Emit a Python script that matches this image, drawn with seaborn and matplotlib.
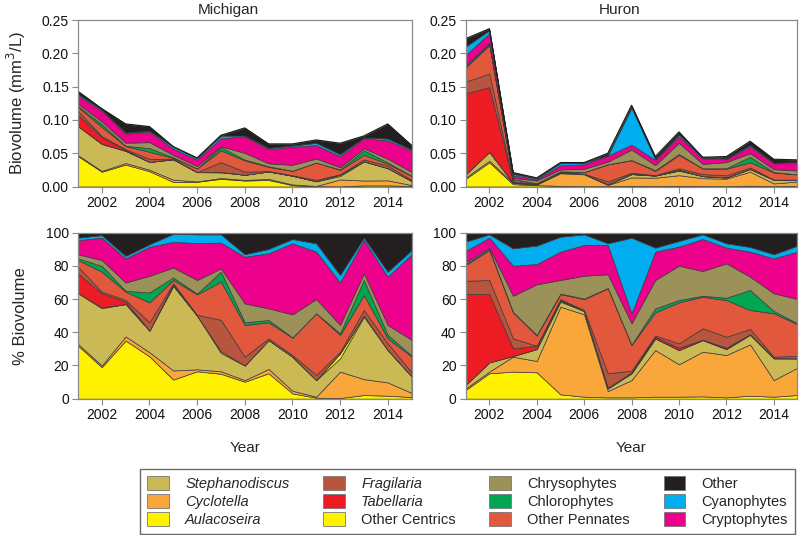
import matplotlib
matplotlib.use("Agg")
import matplotlib.pyplot as plt
import seaborn as sns
import numpy as np
from matplotlib.patches import Patch

# ---------------- data ----------------
years = list(range(2001, 2016))
xticks = [2002, 2004, 2006, 2008, 2010, 2012, 2014]
lakes = ["Michigan", "Huron"]

series_names = ["Aulacoseira", "Cyclotella", "Stephanodiscus", "Other Centrics",
                "Tabellaria", "Fragilaria", "Other Pennates", "Chlorophytes",
                "Chrysophytes", "Cryptophytes", "Cyanophytes", "Other"]

# Michigan, % of total biovolume
mi_aulacoseira = [32, 19, 35, 25.5, 11.5, 16.5, 15, 10.2, 15.3, 3.2, 0.6, 0.4, 2.2, 1.8, 1.0]
mi_cyclotella = [1, 1, 2.5, 2.5, 5.5, 1.2, 1.5, 1, 2.6, 1.6, 0.6, 15.9, 9.6, 8, 2.5]
mi_stephanodiscus = [30.5, 34.5, 19.5, 13, 51, 32.3, 11, 8.8, 17.4, 20.5, 10, 8, 37.6, 19.5, 10]
mi_other_centrics = [0, 0.5, 0, 0, 0, 0, 1, 0, 0, 0, 0, 3, 0.6, 0, 0]
mi_tabellaria = [12, 8.5, 1.5, 0, 1, 0, 0, 0, 0, 0, 0, 0, 0, 0, 0]
mi_fragilaria = [4, 1, 1, 5, 0.5, 0.5, 19, 5.3, 1, 1, 3.1, 1, 3.4, 4, 2.5]
mi_other_pennates = [4, 12, 5, 12, 2, 12.3, 23, 19.1, 9.7, 10.4, 37.1, 10.1, 9, 3, 9.4]
mi_chlorophytes = [1, 3.5, 0.5, 6, 1.5, 0.5, 6, 1.6, 1.4, 0.2, 0, 1, 9.1, 2.1, 0.6]
mi_chrysophytes = [2.5, 3.5, 5, 10, 6, 8.2, 2, 11.4, 7, 13.9, 8.6, 5, 4, 6, 9.5]
mi_cryptophytes = [8.5, 13.5, 14.5, 17.5, 15.5, 22.2, 15.5, 28.1, 33.2, 42.8, 28.6, 25.7, 20.1, 29.1, 51.5]
mi_cyanophytes = [1.5, 1.5, 1.5, 1.5, 4.8, 5.3, 5, 1.5, 2.6, 2.6, 5, 4.4, 1.4, 3, 2.5]
mi_other = [3, 1.5, 14, 7, 0.7, 1, 1, 13, 9.8, 3.8, 6.4, 25.5, 3, 23.5, 10.5]
# Michigan, total biovolume (mm3/L)
mi_total = [0.143, 0.117, 0.094, 0.090, 0.060, 0.043, 0.077, 0.088, 0.064, 0.064,
            0.070, 0.065, 0.076, 0.094, 0.062]

# Huron, % of total biovolume
hu_aulacoseira = [5.2, 15.3, 16.3, 15.9, 2.6, 1.2, 0.8, 0.8, 1.2, 1.2, 1.4, 0.8, 1.8, 1.2, 2.2]
hu_cyclotella = [1, 1, 9, 6.8, 52.8, 49.6, 3.8, 10.4, 28.1, 19.5, 26.9, 25.5, 30.9, 10, 16.5]
hu_stephanodiscus = [2, 5.6, 0.4, 7.2, 3, 2, 1.6, 4.1, 7, 8.6, 7, 3.6, 5.7, 13.1, 5.6]
hu_other_centrics = [0, 0, 0, 0, 0.6, 0, 0, 0, 0, 0, 0, 0, 0.5, 0, 0]
hu_tabellaria = [54.8, 41.1, 4.6, 2, 0.5, 0, 0.4, 0.6, 1, 1.4, 0.2, 0.8, 0, 0.2, 0]
hu_fragilaria = [8, 8.5, 6, 0, 0.5, 0.6, 8.7, 1, 0.7, 2.6, 6.9, 6.6, 3.1, 0.8, 1.6]
hu_other_pennates = [9.5, 18.1, 15.7, 6.1, 3, 6.6, 51.2, 15.4, 14, 24.7, 19, 22.1, 11.4, 26.1, 18.9]
hu_chlorophytes = [0.6, 0.6, 0.3, 0.4, 0.3, 0.3, 0.2, 0.2, 2.4, 1.4, 0.6, 1.4, 12.1, 1.4, 0.6]
hu_chrysophytes = [1, 0.8, 9.7, 30.5, 8.2, 13.8, 8.2, 12.9, 17.1, 20.7, 14.9, 20.7, 8, 10.7, 14.6]
hu_cryptophytes = [6.9, 6, 18.1, 12.2, 17.1, 18.5, 17.7, 6, 17.1, 11.5, 19.3, 9.5, 15.1, 21, 28.6]
hu_cyanophytes = [5.6, 2, 10.5, 11.1, 9, 6.4, 1, 45.6, 2.4, 3.4, 2.8, 2.6, 2.8, 2.5, 3.6]
hu_other = [5.4, 1, 9.4, 7.8, 2.4, 1, 6.4, 3, 9, 5, 1, 6.4, 8.6, 13, 7.8]
# Huron, total biovolume (mm3/L)
hu_total = [0.222, 0.237, 0.021, 0.013, 0.036, 0.036, 0.050, 0.122, 0.045, 0.082,
            0.044, 0.045, 0.068, 0.041, 0.040]

# ---------------- style ----------------
colors = {
    "Aulacoseira": "#FFF200",
    "Cyclotella": "#F9A63B",
    "Stephanodiscus": "#CBB955",
    "Other Centrics": "#FFF200",
    "Tabellaria": "#ED1C24",
    "Fragilaria": "#B8553E",
    "Other Pennates": "#E2583D",
    "Chlorophytes": "#00A651",
    "Chrysophytes": "#9C9159",
    "Cryptophytes": "#EC008C",
    "Cyanophytes": "#00AEEF",
    "Other": "#231F20",
}

sns.set_theme(style="ticks")
plt.rcParams["font.family"] = ["Liberation Sans", "DejaVu Sans"]

pct = {
    "Michigan": [mi_aulacoseira, mi_cyclotella, mi_stephanodiscus, mi_other_centrics,
                 mi_tabellaria, mi_fragilaria, mi_other_pennates, mi_chlorophytes,
                 mi_chrysophytes, mi_cryptophytes, mi_cyanophytes, mi_other],
    "Huron": [hu_aulacoseira, hu_cyclotella, hu_stephanodiscus, hu_other_centrics,
              hu_tabellaria, hu_fragilaria, hu_other_pennates, hu_chlorophytes,
              hu_chrysophytes, hu_cryptophytes, hu_cyanophytes, hu_other],
}
totals = {"Michigan": mi_total, "Huron": hu_total}

fig = plt.figure(figsize=(8, 5.35), dpi=100)
lefts = {"Michigan": (0.0974, 0.417), "Huron": (0.582, 0.4148)}
title_x = {"Michigan": 0.45, "Huron": 0.465}
cols = [colors[n] for n in series_names]
spine_c = "#8a8a8a"


def style_axis(ax):
    for s in ax.spines.values():
        s.set_color(spine_c)
        s.set_linewidth(0.9)
    ax.tick_params(axis="both", direction="out", length=4, width=0.8,
                   color=spine_c, labelsize=10, labelcolor="#111111", pad=2.5)
    ax.tick_params(axis="x", top=False)
    ax.tick_params(axis="y", right=False)
    ax.set_xlim(2001, 2015)
    ax.set_xticks(xticks)
    ax.grid(False)
    ax.set_facecolor("white")


for lake in lakes:
    l, w = lefts[lake]
    # biovolume panel
    ax = fig.add_axes([l, 0.6514, w, 0.3112])
    tot = np.array(totals[lake])
    bio = [np.array(s) / 100.0 * tot for s in pct[lake]]
    ax.stackplot(years, *bio, colors=cols, edgecolor="#3c3c3c", linewidth=0.5)
    ax.plot(years, np.sum(bio, axis=0), color="#1a1a1a", lw=0.8)
    ax.set_ylim(0, 0.25)
    ax.set_yticks([0, 0.05, 0.10, 0.15, 0.20, 0.25])
    ax.set_yticklabels(["0.00", "0.05", "0.10", "0.15", "0.20", "0.25"])
    style_axis(ax)
    ax.set_title(lake, fontsize=11, pad=4, x=title_x[lake])
    if lake == "Michigan":
        ax.set_ylabel("Biovolume (mm$^3$/L)", fontsize=12)
        ax.yaxis.set_label_coords(-0.15, 0.5)

    # percent panel
    ax2 = fig.add_axes([l, 0.2548, w, 0.3103])
    ax2.stackplot(years, *pct[lake], colors=cols, edgecolor="#3c3c3c", linewidth=0.5)
    ax2.set_ylim(0, 100)
    ax2.set_yticks([0, 20, 40, 60, 80, 100])
    style_axis(ax2)
    ax2.set_xlabel("Year", fontsize=11, labelpad=14)
    if lake == "Michigan":
        ax2.set_ylabel("% Biovolume", fontsize=12)
        ax2.yaxis.set_label_coords(-0.15, 0.5)

legend_order = ["Stephanodiscus", "Cyclotella", "Aulacoseira",
                "Fragilaria", "Tabellaria", "Other Centrics",
                "Chrysophytes", "Chlorophytes", "Other Pennates",
                "Other", "Cyanophytes", "Cryptophytes"]
italic = {"Stephanodiscus", "Cyclotella", "Aulacoseira", "Fragilaria", "Tabellaria"}
handles = [Patch(facecolor=colors[n], edgecolor="#777777", linewidth=0.6) for n in legend_order]
leg = fig.legend(handles, legend_order, ncol=4, loc="center",
                 bbox_to_anchor=(0.175, 0.006, 0.819, 0.112), mode="expand",
                 frameon=True, fancybox=False, fontsize=10.5, handlelength=1.5,
                 handleheight=1.1, handletextpad=1.1, labelspacing=0.2,
                 borderaxespad=0, borderpad=0.5, columnspacing=1.0)
leg.get_frame().set_edgecolor("#444444")
leg.get_frame().set_linewidth(1.0)
for t in leg.get_texts():
    if t.get_text() in italic:
        t.set_fontstyle("italic")

fig.savefig("out.png", dpi=100)
